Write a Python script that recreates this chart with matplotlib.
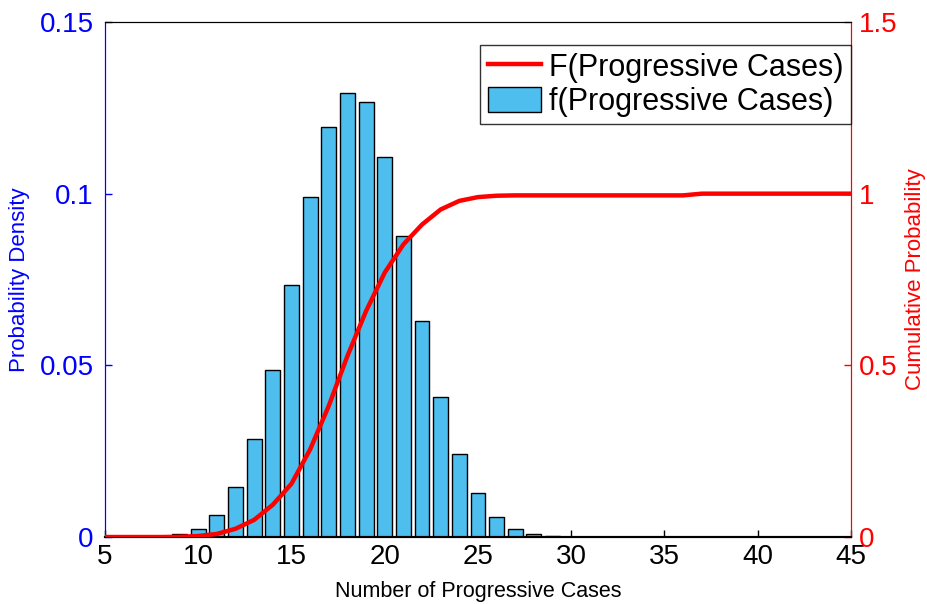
import matplotlib
matplotlib.use("Agg")
import matplotlib.pyplot as plt
import numpy as np

plt.rcParams['font.family'] = ['Liberation Sans', 'DejaVu Sans']

# probability density per number of progressive cases
cases = np.arange(9, 44)
density = [0.0008, 0.0023, 0.0063, 0.0147, 0.0285, 0.0486, 0.0733, 0.0990,
           0.1194, 0.1293, 0.1267, 0.1107, 0.0878, 0.0629, 0.0409, 0.0241,
           0.0128, 0.0059, 0.0023, 0.0008, 0.0003,
           0.0001, 0.0001, 0.0001, 0.0001, 0.0001, 0.0001, 0.0001, 0.0001,
           0.0001, 0.0001, 0.0001, 0.0001, 0.0001, 0.0001]

# cumulative probability
cdf_x = np.arange(5, 46)
cdf = [0, 0, 0, 0, 0.0006, 0.003, 0.009, 0.024, 0.050, 0.094, 0.155, 0.255,
       0.382, 0.527, 0.658, 0.770, 0.852, 0.910, 0.954, 0.979, 0.990, 0.994,
       0.995, 0.995, 0.995, 0.995, 0.995, 0.995, 0.995, 0.995, 0.995, 0.995,
       1.0, 1.0, 1.0, 1.0, 1.0, 1.0, 1.0, 1.0, 1.0]

xticks = [5, 10, 15, 20, 25, 30, 35, 40, 45]
left_ticks = [0, 0.05, 0.1, 0.15]
right_ticks = [0, 0.5, 1, 1.5]

fig = plt.figure(figsize=(9.28, 6.04), dpi=100)
ax = fig.add_axes([0.1131, 0.1109, 0.8039, 0.8527])
ax2 = ax.twinx()

bars = ax.bar(cases, density, width=0.8, color='#4DBEEE', edgecolor='black',
              linewidth=1.0, label='f(Progressive Cases)', zorder=2)
line, = ax2.plot(cdf_x, cdf, color='red', linewidth=3.2,
                 label='F(Progressive Cases)', zorder=3)

ax.set_xlim(5, 45)
ax.set_ylim(0, 0.15)
ax2.set_ylim(0, 1.5)
ax.set_xticks(xticks)
ax.set_xticklabels([str(t) for t in xticks])
ax.set_yticks(left_ticks)
ax.set_yticklabels(['0', '0.05', '0.1', '0.15'])
ax2.set_yticks(right_ticks)
ax2.set_yticklabels(['0', '0.5', '1', '1.5'])

ax.tick_params(axis='x', direction='in', length=5, width=1, colors='black',
               labelsize=20, pad=5)
ax.tick_params(axis='y', direction='in', length=5, width=1, colors='blue',
               labelsize=20, pad=8)
ax2.tick_params(axis='y', direction='in', length=5, width=1, colors='red',
                labelsize=20, pad=6)

for a in (ax, ax2):
    a.spines['top'].set_color('black')
    a.spines['bottom'].set_color('black')
    a.spines['bottom'].set_linewidth(1.5)
    a.spines['left'].set_color('blue')
    a.spines['right'].set_color('red')

ax.set_xlabel('Number of Progressive Cases', fontsize=15.5, labelpad=8)
ax.set_ylabel('Probability Density', fontsize=16, color='blue', labelpad=7)
ax2.set_ylabel('Cumulative Probability', fontsize=16, color='red', labelpad=5)

leg = ax2.legend([line, bars], ['F(Progressive Cases)', 'f(Progressive Cases)'],
                 loc='upper right', bbox_to_anchor=(1.0, 0.9553),
                 borderaxespad=0, fancybox=False, fontsize=22,
                 handlelength=1.75, handleheight=0.9, handletextpad=0.25,
                 borderpad=0.25, labelspacing=0.12)
leg.get_frame().set_edgecolor('black')
leg.get_frame().set_linewidth(1.0)

plt.savefig("out.png", dpi=100)
